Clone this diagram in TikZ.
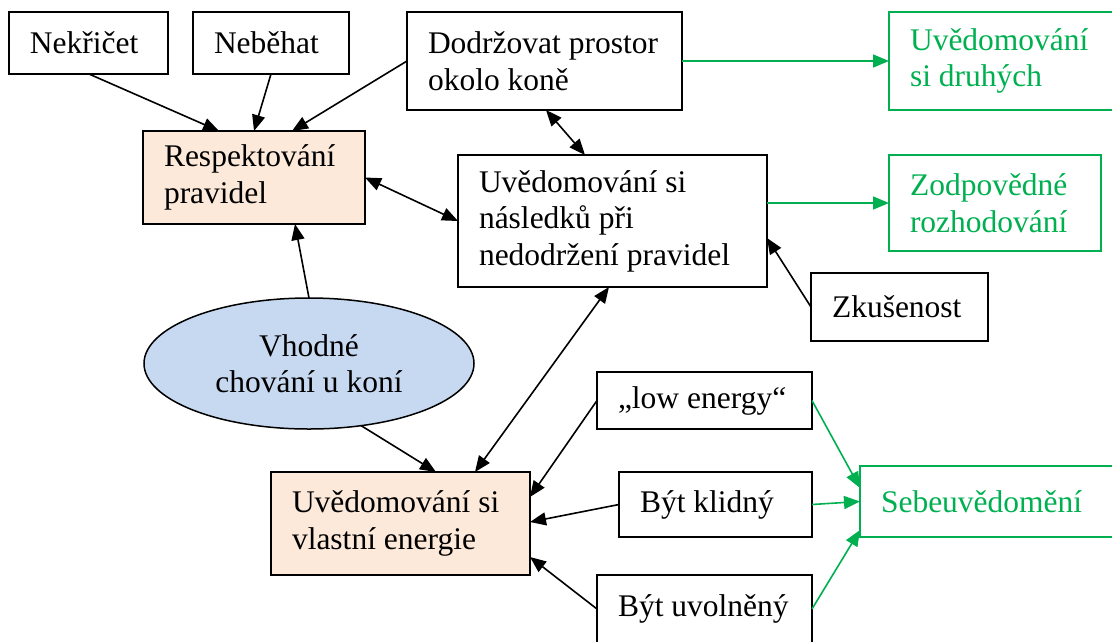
\documentclass[tikz,border=0pt]{standalone}
\usepackage{fontspec}
\setmainfont{Liberation Serif}
\usetikzlibrary{arrows.meta,shapes.geometric}
\definecolor{grn}{HTML}{00B050}
\definecolor{peach}{HTML}{FDE9D9}
\definecolor{skyb}{HTML}{C6D9F1}
\hyphenpenalty=10000
\exhyphenpenalty=10000

\begin{document}
\begin{tikzpicture}[x=1pt,y=-1pt,
  font=\fontsize{31.5}{36.5}\selectfont,
  box/.style={draw, line width=1.8pt, anchor=north west, outer sep=0pt,
    inner xsep=21pt, inner ysep=0pt, align=flush left},
  gbox/.style={box, draw=grn, text=grn},
  arr/.style={-{Triangle[length=16pt,width=13pt]}, line width=1.6pt},
  darr/.style={{Triangle[length=16pt,width=13pt]}-{Triangle[length=16pt,width=13pt]}, line width=1.6pt},
  garr/.style={arr, draw=grn, fill=grn}
]
\useasboundingbox (0,0) rectangle (1112,641);

% boxes
\node[box, minimum width=159pt, text width=117pt, minimum height=62pt] (nek) at (9,12) {Nekřičet};
\node[box, minimum width=156pt, text width=114pt, minimum height=62pt] (neb) at (193,12) {Neběhat};
\node[box, minimum width=275pt, text width=233pt, minimum height=98pt] (dod) at (407,12) {Dodržovat~prostor\\okolo~koně};
\node[gbox, minimum width=226pt, text width=184pt, minimum height=98pt] (druh) at (889,12) {Uvědomování\\si~druhých};
\node[box, fill=peach, minimum width=222pt, text width=180pt, minimum height=93pt] (resp) at (143,131) {Respektování\\pravidel};
\node[box, minimum width=309pt, text width=267pt, minimum height=132pt] (nasl) at (458,155) {Uvědomování~si\\následků~při\\nedodržení~pravidel};
\node[gbox, minimum width=212pt, text width=170pt, minimum height=96pt] (zodp) at (889,155) {Zodpovědné\\rozhodování};
\node[box, minimum width=177pt, text width=135pt, minimum height=68pt] (zk) at (811,273) {Zkušenost};
\node[ellipse, draw, fill=skyb, line width=1.5pt, outer sep=0pt, minimum width=330pt, minimum height=131pt, inner sep=0pt, align=center] (ell) at (309,363.5) {Vhodné\\chování~u~koní};
\node[box, fill=peach, minimum width=259pt, text width=217pt, minimum height=103pt] (en) at (271,472) {Uvědomování~si\\vlastní~energie};
\node[box, minimum width=215pt, text width=173pt, minimum height=57pt] (low) at (597,372) {„low~energy“};
\node[box, minimum width=193pt, text width=151pt, minimum height=65pt] (klid) at (619,472) {Být~klidný};
\node[box, minimum width=215pt, text width=173pt, minimum height=68pt] (uvol) at (597,575) {Být~uvolněný};
\node[gbox, minimum width=255pt, text width=213pt, minimum height=71pt] (seb) at (860,466) {Sebeuvědomění};

% connectors
\draw[arr] ([xshift=80pt]nek.south west) -- ([xshift=76pt]resp.north west);
\draw[arr] ([xshift=78pt]neb.south west) -- ([xshift=111pt]resp.north west);
\draw[arr] (dod.west) -- ([xshift=149pt]resp.north west);
\draw[darr] ([xshift=139pt]dod.south west) -- ([xshift=127pt]nasl.north west);
\draw[darr] (resp.east) -- (nasl.west);
\draw[arr] (ell.north) -- ([xshift=152pt]resp.south west);
\draw[garr] (dod.east) -- (druh.west);
\draw[garr] (zodp.west -| nasl.east) -- (zodp.west);
\draw[arr] (zk.west) -- ([yshift=-17pt]nasl.east);
\draw[darr] ([xshift=204pt]en.north west) -- ([xshift=151pt]nasl.south west);
\draw[arr] (ell.-50) -- ([xshift=165pt]en.north west);
\draw[arr] (low.west) -- ([yshift=26.5pt]en.east);
\draw[arr] (klid.west) -- ([yshift=1.5pt]en.east);
\draw[arr] (uvol.west) -- ([yshift=-33.5pt]en.east);
\draw[garr] (low.east) -- ([yshift=13.5pt]seb.west);
\draw[garr] (klid.east) -- (seb.west);
\draw[garr] (uvol.east) -- ([yshift=-28.5pt]seb.west);
\end{tikzpicture}
\end{document}
